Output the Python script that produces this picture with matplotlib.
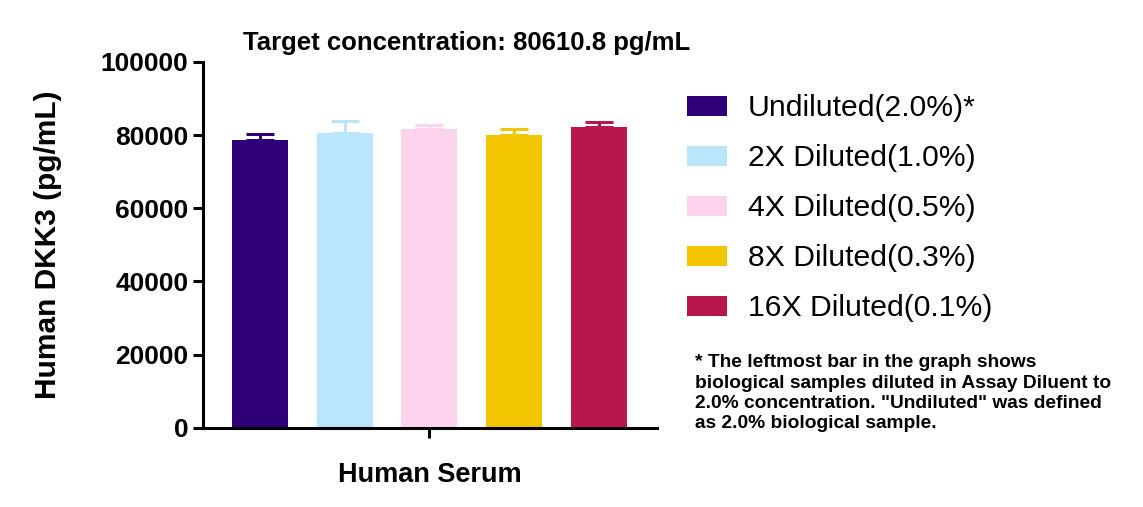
import matplotlib.pyplot as plt
from matplotlib.patches import Patch

plt.rcParams['font.family'] = ['Liberation Sans', 'DejaVu Sans']

# values
labels = ['Undiluted(2.0%)*', '2X Diluted(1.0%)', '4X Diluted(0.5%)',
          '8X Diluted(0.3%)', '16X Diluted(0.1%)']
means = [78600, 80600, 81700, 80100, 82300]
errs = [1600, 3300, 1000, 1500, 1400]
colors = ['#2E0077', '#B9E6FA', '#FDD3EE', '#F2C500', '#B8174E']
yticks = [0, 20000, 40000, 60000, 80000, 100000]

fig = plt.figure(figsize=(11.43, 5.07), dpi=100)
ax = fig.add_axes([0.1776, 0.156, 0.397, 0.722])

x = list(range(len(means)))
ax.bar(x, means, width=0.66, color=colors, zorder=2)
for xi, m, e, c in zip(x, means, errs, colors):
    ax.errorbar(xi, m, yerr=[[0], [e]], color=c, capsize=10,
                elinewidth=2.2, capthick=2.2, zorder=1)

ax.set_xlim(-0.67, 4.68)
ax.set_ylim(0, 100000)
ax.set_yticks(yticks)
ax.set_yticklabels([str(t) for t in yticks], fontsize=19, fontweight='bold')
ax.set_xticks([2])
ax.set_xticklabels([''])
ax.set_xlabel('Human Serum', fontsize=19.5, fontweight='bold', labelpad=14)
ax.set_ylabel('Human DKK3 (pg/mL)', fontsize=21.5, fontweight='bold', labelpad=28)

for s in ['top', 'right']:
    ax.spines[s].set_visible(False)
for s in ['left', 'bottom']:
    ax.spines[s].set_linewidth(2.2)
ax.tick_params(width=2.2, length=7, direction='out')

fig.text(0.4085, 0.915, 'Target concentration: 80610.8 pg/mL',
         ha='center', va='center', fontsize=18.5, fontweight='bold')

handles = [Patch(facecolor=c, edgecolor='none') for c in colors]
fig.legend(handles, labels, loc='upper left', bbox_to_anchor=(0.601, 0.814),
           frameon=False, fontsize=21.7, handlelength=1.33, handleheight=0.66,
           handletextpad=0.7, labelspacing=0.73, borderaxespad=0, borderpad=0)

fig.text(0.608, 0.301,
         '* The leftmost bar in the graph shows\n'
         'biological samples diluted in Assay Diluent to\n'
         '2.0% concentration. "Undiluted" was defined\n'
         'as 2.0% biological sample.',
         ha='left', va='top', fontsize=13.8, fontweight='bold', linespacing=1.25)

fig.savefig('out.png', dpi=100)
